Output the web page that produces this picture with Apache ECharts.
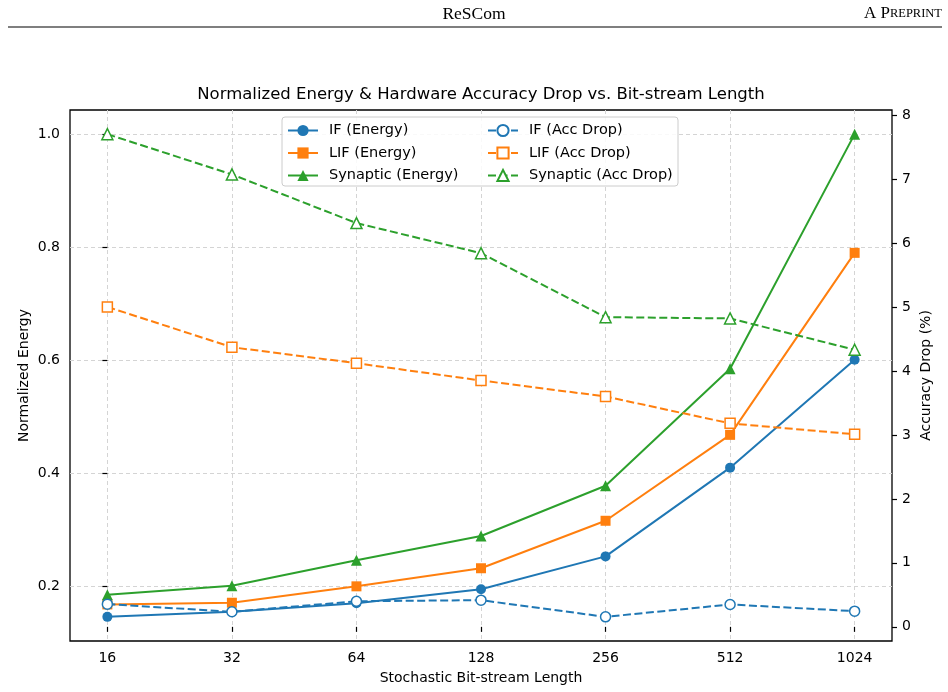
<!DOCTYPE html>
<html>
<head>
<meta charset="utf-8">
<script src="https://cdn.jsdelivr.net/npm/echarts@6/dist/echarts.min.js"></script>
<style>
html,body{margin:0;padding:0;background:#fff}
#main{width:948px;height:692px}
</style>
</head>
<body>
<div id="main"></div>
<script>
// bit-stream lengths (x categories)
let lengths = [16, 32, 64, 128, 256, 512, 1024];

// normalized energy (left axis)
let ifEnergy = [0.146, 0.155, 0.170, 0.195, 0.253, 0.410, 0.601];
let lifEnergy = [0.168, 0.171, 0.200, 0.232, 0.316, 0.468, 0.790];
let synEnergy = [0.185, 0.201, 0.246, 0.289, 0.378, 0.585, 1.000];

// accuracy drop in % (right axis)
let ifAcc = [0.355, 0.235, 0.40, 0.417, 0.156, 0.35, 0.245];
let lifAcc = [5.00, 4.37, 4.12, 3.85, 3.60, 3.18, 3.01];
let synAcc = [7.70, 7.07, 6.31, 5.84, 4.84, 4.82, 4.33];

let leftTicks = [0.2, 0.4, 0.6, 0.8, 1.0];
let rightTicks = [0, 1, 2, 3, 4, 5, 6, 7, 8];

let font = 'DejaVu Sans';
let blue = '#1f77b4', orange = '#ff7f0e', green = '#2ca02c';

// matplotlib style 5% margins
function padRange(arrs) {
  let all = [].concat.apply([], arrs);
  let lo = Math.min.apply(null, all), hi = Math.max.apply(null, all);
  let m = (hi - lo) * 0.05;
  return [lo - m, hi + m];
}
let leftRange = padRange([ifEnergy, lifEnergy, synEnergy]);
let rightRange = padRange([ifAcc, lifAcc, synAcc]);
let xIdx = lengths.map(function (v, i) { return i; });

function mkSeries(name, vals, color, symbol, size, dashed, yAxis) {
  return {
    name: name,
    type: 'line',
    yAxisIndex: yAxis,
    data: vals.map(function (v, i) { return [i, v]; }),
    symbol: symbol,
    symbolSize: size,
    showSymbol: true,
    color: color,
    lineStyle: { color: color, width: 2, type: dashed ? [8, 3.5] : 'solid' },
    itemStyle: dashed
      ? { color: '#fff', borderColor: color, borderWidth: 1.5 }
      : { color: color, borderColor: color, borderWidth: 0 },
    emphasis: { disabled: true },
    z: dashed ? 3 : 2
  };
}

let myChart = echarts.init(document.getElementById('main'), null, { renderer: 'canvas' });

let legendCommon = {
  orient: 'vertical',
  top: 123,
  padding: 0,
  itemGap: 7.5,
  itemWidth: 30,
  itemHeight: 14,
  textStyle: { fontFamily: font, fontSize: 14.5, color: '#000', lineHeight: 14, padding: [0, 0, 0, 6] },
  selectedMode: false
};

let option = {
  animation: false,
  backgroundColor: '#fff',
  textStyle: { fontFamily: font },
  grid: { left: 70, right: 56, top: 110, bottom: 51, outerBoundsMode: 'none', containLabel: false,
    show: true, borderColor: '#000', borderWidth: 1.3, backgroundColor: 'transparent' },
  legend: [
    Object.assign({ left: 287, data: ['IF (Energy)', 'LIF (Energy)', 'Synaptic (Energy)'] }, legendCommon),
    Object.assign({ left: 487, data: ['IF (Acc Drop)', 'LIF (Acc Drop)', 'Synaptic (Acc Drop)'] }, legendCommon)
  ],
  xAxis: {
    type: 'value',
    min: -0.3,
    max: 6.3,
    name: 'Stochastic Bit-stream Length',
    nameLocation: 'middle',
    nameGap: 30,
    nameTextStyle: { fontFamily: font, fontSize: 14, color: '#000' },
    axisLine: { show: false },
    axisTick: { show: true, customValues: xIdx, length: 5, lineStyle: { color: '#000', width: 1.2 } },
    axisLabel: { customValues: xIdx, fontFamily: font, fontSize: 14, color: '#000', margin: 10,
      formatter: function (v) { return String(lengths[Math.round(v)]); } },
    splitLine: { show: true, lineStyle: { color: '#d4d4d4', type: [4, 3], width: 1 } }
  },
  yAxis: [
    {
      type: 'value',
      position: 'left',
      min: leftRange[0],
      max: leftRange[1],
      name: 'Normalized Energy',
      nameLocation: 'middle',
      nameGap: 39,
      nameMoveOverlap: false,
      nameTextStyle: { fontFamily: font, fontSize: 14, color: '#000' },
      axisLine: { show: false },
      axisTick: { show: true, customValues: leftTicks, length: 5, lineStyle: { color: '#000', width: 1.2 } },
      axisLabel: { customValues: leftTicks, fontFamily: font, fontSize: 14, color: '#000', margin: 10,
        formatter: function (v) { return v.toFixed(1); } },
      splitLine: { show: true, lineStyle: { color: '#d4d4d4', type: [4, 3], width: 1 } }
    },
    {
      type: 'value',
      position: 'right',
      min: rightRange[0],
      max: rightRange[1],
      name: 'Accuracy Drop (%)',
      nameLocation: 'middle',
      nameGap: 27,
      nameRotate: 90,
      nameMoveOverlap: false,
      nameTextStyle: { fontFamily: font, fontSize: 14, color: '#000' },
      axisLine: { show: false },
      axisTick: { show: true, customValues: rightTicks, length: 5, lineStyle: { color: '#000', width: 1.2 } },
      axisLabel: { customValues: rightTicks, fontFamily: font, fontSize: 14, color: '#000', margin: 10,
        formatter: function (v) { return String(Math.round(v)); } },
      splitLine: { show: false }
    }
  ],
  graphic: [
    { type: 'text', left: 'center', top: 5, style: { text: 'ReSCom', fontFamily: 'Liberation Serif', fontSize: 17.5, fill: '#000' } },
    { type: 'text', right: 6, top: 5, style: {
        text: '{a|A P}{b|REPRINT}', fill: '#000',
        rich: { a: { fontFamily: 'Liberation Serif', fontSize: 17 }, b: { fontFamily: 'Liberation Serif', fontSize: 12.5 } } } },
    { type: 'line', shape: { x1: 8, y1: 27, x2: 942, y2: 27 }, style: { stroke: '#000', lineWidth: 1.2 } },
    { type: 'text', x: 481, y: 86, style: { text: 'Normalized Energy & Hardware Accuracy Drop vs. Bit-stream Length',
        fontFamily: font, fontSize: 16.5, fill: '#000', textAlign: 'center' } },
    { type: 'rect', z: 3, shape: { x: 282, y: 117, width: 396, height: 69, r: 3 },
      style: { fill: 'rgba(255,255,255,0.85)', stroke: '#cccccc', lineWidth: 1 } }
  ],
  series: [
    mkSeries('IF (Energy)', ifEnergy, blue, 'circle', 10, false, 0),
    mkSeries('LIF (Energy)', lifEnergy, orange, 'rect', 10, false, 0),
    mkSeries('Synaptic (Energy)', synEnergy, green, 'triangle', 11, false, 0),
    mkSeries('IF (Acc Drop)', ifAcc, blue, 'circle', 10, true, 1),
    mkSeries('LIF (Acc Drop)', lifAcc, orange, 'rect', 10, true, 1),
    mkSeries('Synaptic (Acc Drop)', synAcc, green, 'triangle', 11, true, 1)
  ]
};

myChart.setOption(option);
</script>
</body>
</html>
